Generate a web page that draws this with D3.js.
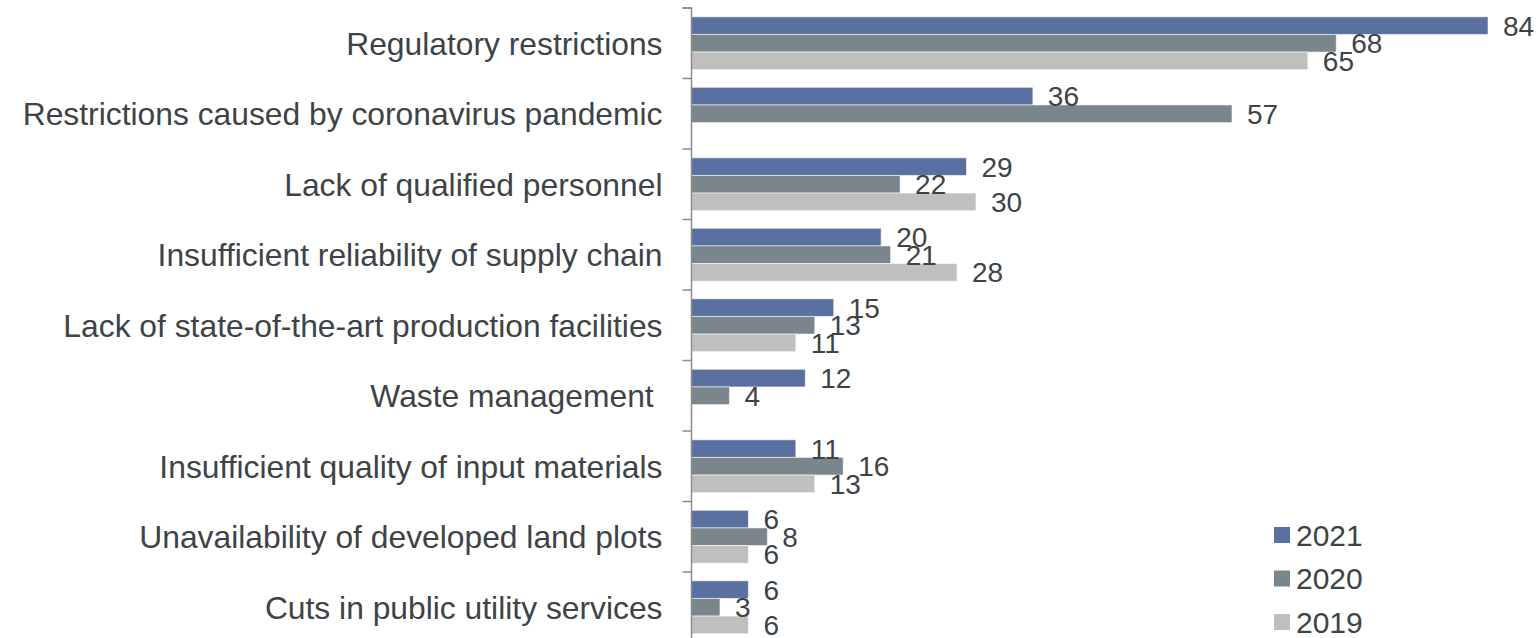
<!DOCTYPE html>
<html>
<head>
<meta charset="utf-8">
<script src="https://cdn.jsdelivr.net/npm/d3@7"></script>
<style>
    html, body { margin: 0; padding: 0; background: #fff; }
    svg text { font-family: "Liberation Sans", Arial, sans-serif; fill: #3e4347; }
</style>
</head>
<body>
<svg id="chart" width="1540" height="638"></svg>
<script>
// Chart data
const categories = [
    'Regulatory restrictions',
    'Restrictions caused by coronavirus pandemic',
    'Lack of qualified personnel',
    'Insufficient reliability of supply chain',
    'Lack of state-of-the-art production facilities',
    'Waste management ',
    'Insufficient quality of input materials',
    'Unavailability of developed land plots',
    'Cuts in public utility services'
];
const seriesNames = ['2021', '2020', '2019'];
const values2021 = [84, 36, 29, 20, 15, 12, 11, 6, 6];
const values2020 = [68, 57, 22, 21, 13, 4, 16, 8, 3];
const values2019 = [65, null, 30, 28, 11, null, 13, 6, 6];
const seriesColors = ['#5a70a0', '#7a868c', '#bfbfbf'];

const seriesValues = [values2021, values2020, values2019];

const svg = d3.select('#chart');
const axisX = 691.5;

const x = d3.scaleLinear()
    .domain([0, 84])
    .range([axisX, 1488]);

const y = d3.scaleBand()
    .domain(categories)
    .range([8, 642.5])
    .padding(0);

const ySub = d3.scaleBand()
    .domain(seriesNames)
    .range([0, y.bandwidth()])
    .paddingInner(0)
    .paddingOuter(0.5);

const color = d3.scaleOrdinal().domain(seriesNames).range(seriesColors);

// flatten to one record per bar
const bars = [];
categories.forEach((cat, i) => {
    seriesNames.forEach((s, j) => {
        const v = seriesValues[j][i];
        if (v != null) bars.push({ cat, series: s, value: v });
    });
});

// Bars
svg.append('g')
    .selectAll('rect')
    .data(bars)
    .enter().append('rect')
    .attr('x', x(0))
    .attr('y', d => y(d.cat) + ySub(d.series))
    .attr('width', d => x(d.value) - x(0))
    .attr('height', ySub.bandwidth())
    .attr('fill', d => color(d.series))
    .attr('stroke', 'rgba(255,255,255,0.55)')
    .attr('stroke-width', 1);

// Value labels
svg.append('g')
    .selectAll('text')
    .data(bars)
    .enter().append('text')
    .attr('x', d => x(d.value) + 15)
    .attr('y', d => y(d.cat) + ySub(d.series) + ySub.bandwidth() / 2)
    .attr('dy', '0.36em')
    .attr('font-size', 28)
    .text(d => d.value);

// Category axis
const yAxis = d3.axisLeft(y)
    .tickSize(9)
    .tickPadding(20)
    .tickFormat(d => d);

const axisG = svg.append('g')
    .attr('transform', `translate(${axisX},0)`)
    .call(yAxis);

axisG.select('.domain')
    .attr('stroke', '#8c8c8c')
    .attr('stroke-width', 1.5)
    .attr('d', `M-9,${y.range()[0]}H0V${y.range()[1]}`);

// ticks sit on the band boundaries, not the centres
axisG.selectAll('.tick line')
    .attr('stroke', '#8c8c8c')
    .attr('stroke-width', 1.5)
    .attr('y1', -y.bandwidth() / 2)
    .attr('y2', -y.bandwidth() / 2);

axisG.selectAll('.tick text')
    .attr('font-size', 31.8)
    .attr('fill', '#3e4347')
    .style('white-space', 'pre')
    .attr('dy', '0.36em');

// Legend
const legend = svg.append('g')
    .attr('transform', 'translate(1274,535)');

const legendItem = legend.selectAll('g')
    .data(seriesNames)
    .enter().append('g')
    .attr('transform', (d, i) => `translate(0,${i * 43.5})`);

legendItem.append('rect')
    .attr('x', 0)
    .attr('y', -8)
    .attr('width', 16)
    .attr('height', 16)
    .attr('fill', d => color(d));

legendItem.append('text')
    .attr('x', 22)
    .attr('y', 0)
    .attr('dy', '0.36em')
    .attr('font-size', 30)
    .text(d => d);
</script>
</body>
</html>
